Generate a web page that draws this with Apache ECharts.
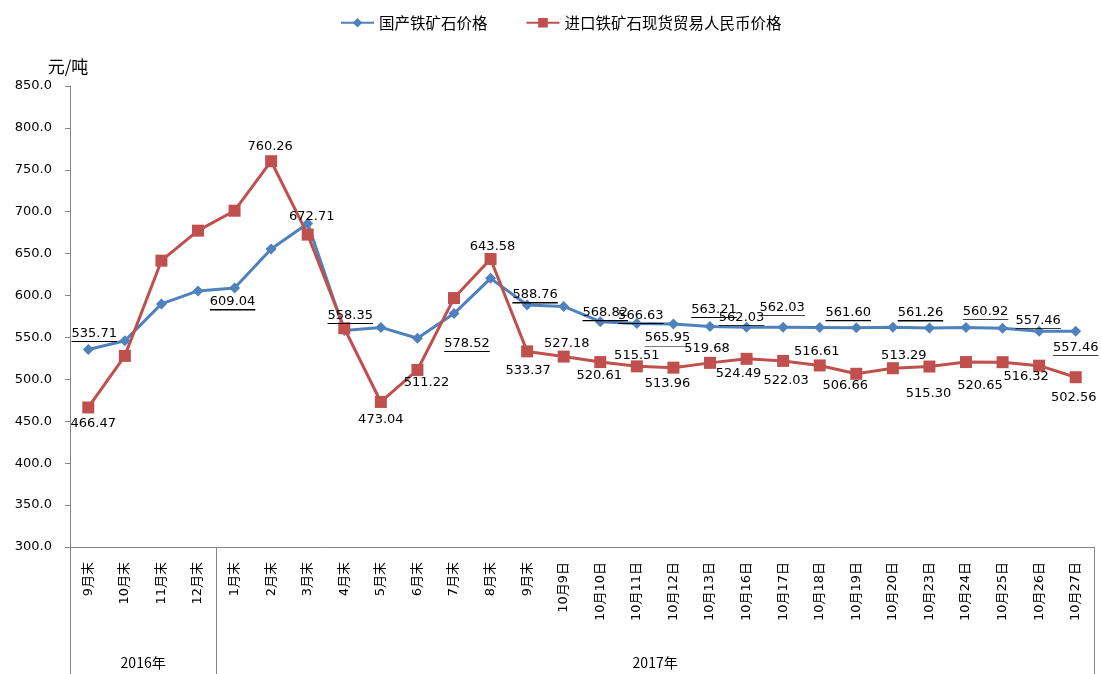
<!DOCTYPE html>
<html><head><meta charset="utf-8">
<script src="https://cdn.jsdelivr.net/npm/echarts@6/dist/echarts.min.js"></script>
<style>html,body{margin:0;padding:0;background:#fff}#c{width:1101px;height:674px}</style>
</head><body><div id="c"></div>
<script>
const categories = ['9月末','10月末','11月末','12月末','1月末','2月末','3月末','4月末','5月末','6月末','7月末','8月末','9月末','10月9日','10月10日','10月11日','10月12日','10月13日','10月16日','10月17日','10月18日','10月19日','10月20日','10月23日','10月24日','10月25日','10月26日','10月27日'];
const domesticPrice = [535.71,546,590,605.5,609.04,655.5,686,558.35,562,549,578.52,620.5,588.76,587,568.82,566.63,565.95,563.21,562.03,562.03,561.8,561.60,562.2,561.26,562.0,560.92,557.46,557.46];
const importPrice = [466.47,528,641.6,677.4,701.2,760.26,672.71,561,473.04,511.22,597,643.58,533.37,527.18,520.61,515.51,513.96,519.68,524.49,522.03,516.61,506.66,513.29,515.30,520.65,520.5,516.32,502.56];
const seriesNames = ['国产铁矿石价格','进口铁矿石现货贸易人民币价格'];
const yMin = 300, yMax = 850, yStep = 50;
const yUnit = '元/吨';
const yearGroups = [{name:'2016年', start:0, end:3},{name:'2017年', start:4, end:27}];
// which points carry a value label (index -> label offset in px)
const domesticLabelOffsets = {0:[6,-16],4:[-2,14],7:[6,-15],10:[13,30],12:[8,-10],14:[5,-9],15:[4,-8],16:[-6,14],17:[4,-17],18:[-5,-10],19:[-1,-20],21:[-8,-15],23:[-9,-15],25:[-17,-17],26:[-1,-11],27:[0,16]};
const importLabelOffsets = {0:[5,16],5:[-1,-15],6:[4,-18],8:[0,18],9:[9,13],11:[2,-12],12:[1,19],13:[3,-13],14:[-1,14],15:[0,-11],16:[-6,16],17:[-3,-14],18:[-8,15],19:[3,20],20:[-3,-14],21:[-11,12],22:[11,-13],23:[-1,27],24:[14,24],26:[-13,11],27:[-2,20]};

const chart = echarts.init(document.getElementById('c'), null, {renderer:'canvas'});
const numFont = 'DejaVu Sans, Noto Sans CJK SC, sans-serif';
const underline = new echarts.graphic.LinearGradient(0,0,0,1,[
  {offset:0,color:'rgba(0,0,0,0)'},{offset:0.94,color:'rgba(0,0,0,0)'},
  {offset:0.94,color:'#000'},{offset:1,color:'#000'}]);
function build(values, offsets){
  return values.map((v,i)=>{
    const o = offsets[i];
    return o ? {value:v, label:{show:true, offset:o}} : {value:v, label:{show:false}};
  });
}
const baseLabel = {show:true, position:'inside', align:'center', verticalAlign:'middle',
  color:'#000', fontSize:13, fontFamily:numFont, lineHeight:17,
  formatter:p=>Number(p.value).toFixed(2)};

chart.setOption({
  animation:false,
  backgroundColor:'#fff',
  legend:{top:10, left:335, itemWidth:33, itemHeight:12, itemGap:38,
    textStyle:{fontSize:15.5, color:'#000', fontFamily:'Noto Sans CJK SC'}, data:seriesNames},
  grid:{left:70, right:7, top:86, bottom:127, containLabel:false},
  xAxis:{type:'category', data:categories, boundaryGap:true,
    axisLine:{lineStyle:{color:'#868686', width:1}},
    axisTick:{length:92, lineStyle:{color:'#a6a6a6'}},
    axisLabel:{rotate:90, margin:15, fontSize:13, color:'#000', fontFamily:numFont, interval:0}},
  yAxis:{type:'value', min:yMin, max:yMax, interval:yStep,
    name:yUnit, nameGap:11, nameTextStyle:{fontSize:17, color:'#000', fontFamily:'Noto Sans CJK SC', padding:[0,4,0,0]},
    splitLine:{show:false},
    axisLine:{show:true, lineStyle:{color:'#868686'}},
    axisTick:{show:true, length:5, lineStyle:{color:'#868686'}},
    axisLabel:{fontSize:13, color:'#000', fontFamily:numFont, margin:18, formatter:v=>v.toFixed(1)}},
  series:[
    {name:seriesNames[0], type:'line', data:build(domesticPrice, domesticLabelOffsets),
      symbol:'diamond', symbolSize:11, lineStyle:{color:'#4F81BD', width:3},
      itemStyle:{color:'#4F81BD'},
      label:Object.assign({}, baseLabel, {backgroundColor:underline, padding:[0,0,0,0]}),
      emphasis:{disabled:true}},
    {name:seriesNames[1], type:'line', data:build(importPrice, importLabelOffsets),
      symbol:'rect', symbolSize:12, lineStyle:{color:'#C0504D', width:3},
      itemStyle:{color:'#C0504D'}, label:baseLabel, emphasis:{disabled:true}}
  ]
});

// group (year) separators and labels under the category axis, positioned via the axis scale
const c0 = chart.convertToPixel({xAxisIndex:0}, 0);
const c1 = chart.convertToPixel({xAxisIndex:0}, 1);
const step = c1 - c0;
const yb = chart.convertToPixel({yAxisIndex:0}, yMin);
const H = chart.getHeight();
const bnd = i => c0 + step*i - step/2;
const graphics = [];
const edges = [yearGroups[0].start].concat(yearGroups.map(g=>g.end+1));
edges.forEach(e=>{
  const x = Math.round(bnd(e))+0.5;
  graphics.push({type:'line', shape:{x1:x, y1:yb, x2:x, y2:H}, style:{stroke:'#868686', lineWidth:1}, silent:true});
});
yearGroups.forEach(g=>{
  const xc = (bnd(g.start)+bnd(g.end+1))/2;
  graphics.push({type:'text', x:xc, y:yb+116, style:{text:g.name, fill:'#000', font:'14px "Noto Sans CJK SC"', align:'center', verticalAlign:'middle'}, silent:true});
});
chart.setOption({graphic:graphics});
</script></body></html>
